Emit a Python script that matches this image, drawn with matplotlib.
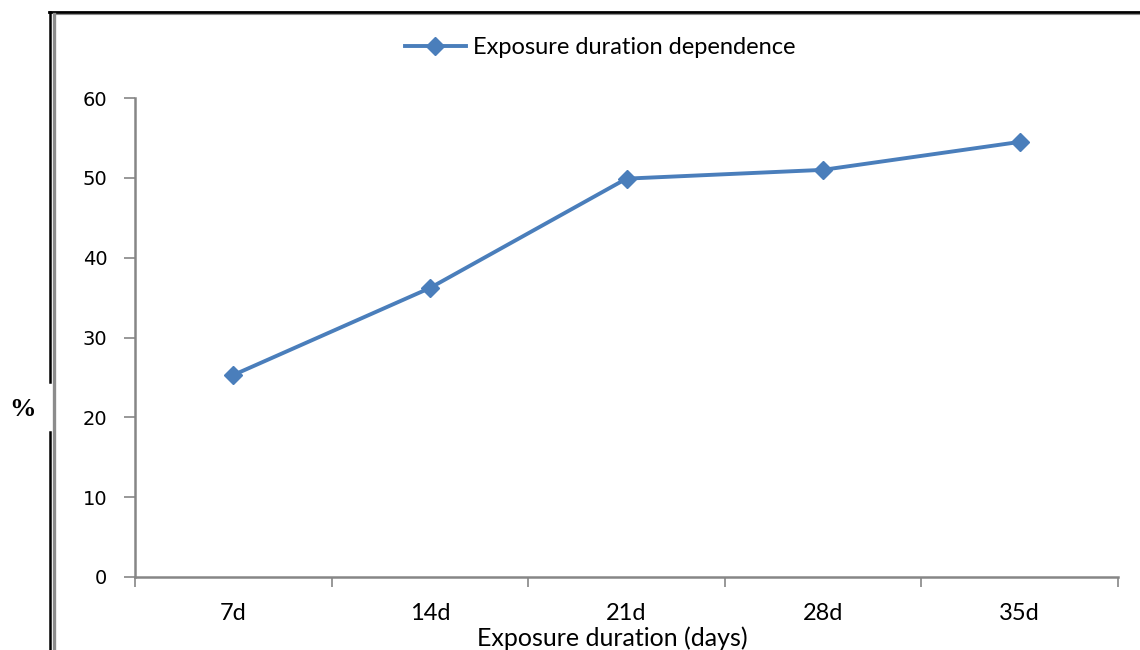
import matplotlib.pyplot as plt
from matplotlib.lines import Line2D

categories = ['7d', '14d', '21d', '28d', '35d']
values = [25.3, 36.2, 49.9, 51.0, 54.5]
y_ticks = [0, 10, 20, 30, 40, 50, 60]

line_color = '#4a7ebb'
axis_color = '#868686'

fig = plt.figure(figsize=(11.4, 6.5), dpi=100)
ax = fig.add_axes([135 / 1140, 1 - 577 / 650, (1118 - 135) / 1140, (577 - 98) / 650])

x = list(range(len(categories)))
ax.plot(x, values, color=line_color, linewidth=2.8, marker='D', markersize=9,
        label='Exposure duration dependence')

ax.set_xlim(-0.5, len(categories) - 0.5)
ax.set_ylim(0, 60)
ax.set_yticks(y_ticks)
ax.set_yticklabels([str(v) for v in y_ticks], fontfamily='DejaVu Sans', fontsize=14)

# category labels at centres, tick marks at boundaries
ax.set_xticks(x)
ax.set_xticklabels(categories, fontfamily='Lato', fontsize=17)
ax.set_xticks([i - 0.5 for i in range(len(categories) + 1)], minor=True)
ax.tick_params(axis='x', which='major', length=0, pad=19)
ax.tick_params(axis='x', which='minor', length=7, width=1.2, color=axis_color, direction='out')
ax.tick_params(axis='y', length=8, width=1.2, color=axis_color, pad=12)

for side in ['top', 'right']:
    ax.spines[side].set_visible(False)
for side in ['left', 'bottom']:
    ax.spines[side].set_color(axis_color)
    ax.spines[side].set_linewidth(1.8)

ax.set_xlabel('Exposure duration (days)', fontfamily='Lato', fontsize=18)
ax.xaxis.set_label_coords((612 - 135) / 983, -(626 - 577) / 479)

leg = ax.legend(loc='center', bbox_to_anchor=(600 / 1140, 1 - 48 / 650),
                bbox_transform=fig.transFigure, frameon=False,
                prop={'family': 'Lato', 'size': 17}, handlelength=2.6, handletextpad=0.3)

fig.text(22 / 1140, 1 - 410 / 650, '%', fontfamily='Liberation Serif', fontweight='bold',
         fontsize=19, ha='center', va='center')

# page border lines
def fig_line(xs, ys, color, lw):
    fig.add_artist(Line2D([v / 1140 for v in xs], [1 - v / 650 for v in ys],
                          color=color, linewidth=lw, transform=fig.transFigure))

fig_line([50, 50], [11.5, 382], 'black', 1.8)
fig_line([50, 50], [432, 650], 'black', 1.8)
fig_line([49.3, 1140], [12.3, 12.3], 'black', 2.0)
fig_line([54.3, 54.3], [13.5, 650], '#8c8c8c', 2.4)
fig_line([54.3, 1140], [14.2, 14.2], '#8c8c8c', 0.8)

fig.savefig('out.png', dpi=100)
